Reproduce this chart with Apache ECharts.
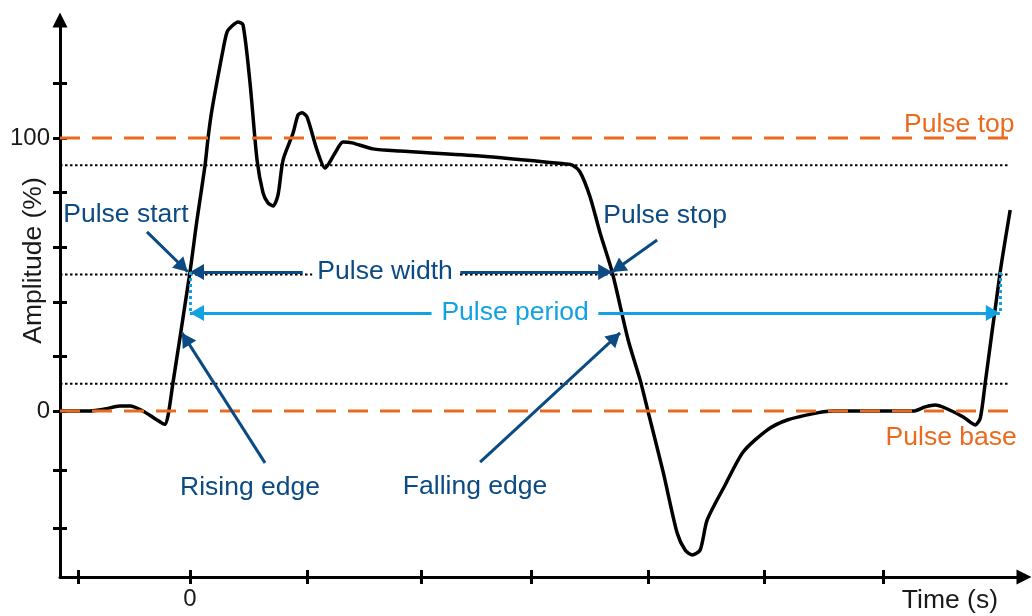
<!DOCTYPE html>
<html><head><meta charset="utf-8">
<script src="https://cdn.jsdelivr.net/npm/echarts@6/dist/echarts.min.js"></script>
<style>html,body{margin:0;padding:0;background:#fff}#chart{width:1032px;height:616px}</style>
</head><body><div id="chart"></div>
<script>
// ---- data (time in s, amplitude in %) ----
const signalTime = [-1.13, -0.87, -0.74, -0.61, -0.52, -0.41, -0.30, -0.22, -0.19, -0.148, 0, 0.061, 0.13, 0.157, 0.191, 0.287, 0.322, 0.365, 0.417, 0.461, 0.522, 0.583, 0.635, 0.678, 0.722, 0.765, 0.809, 0.896, 0.939, 0.974, 1.017, 1.104, 1.174, 1.261, 1.33, 1.409, 1.591, 1.826, 2.522, 3.261, 3.322, 3.391, 3.478, 3.565, 3.67, 3.809, 3.913, 3.983, 4.113, 4.235, 4.304, 4.365, 4.435, 4.496, 4.652, 4.809, 5.017, 5.191, 5.452, 5.591, 6.287, 6.391, 6.478, 6.565, 6.722, 6.826, 6.87, 6.913, 7.043, 7.13];
const signalAmp = [0, 0, 0.7, 1.8, 1.8, 0, -2.9, -4.9, -1.5, 10.3, 50.9, 70, 89.7, 100, 110.3, 132.2, 138.8, 141, 142.5, 141.4, 120.1, 91.9, 79.9, 76.2, 75.1, 79.1, 91.9, 101.8, 108.4, 109.2, 107.7, 95.6, 89.0, 94.5, 98.5, 98.2, 96.0, 95.2, 93.4, 90.5, 90.1, 87.5, 78.4, 65.2, 50.9, 26.0, 11.4, -0.4, -22.3, -44.7, -50.9, -52.7, -50.9, -39.9, -27.1, -15.0, -7.0, -3.3, -0.7, 0, 0, 1.5, 2.2, 1.1, -2.2, -5.1, -2.6, 10.3, 50.9, 73.6];

const xTicks = [-0.97, 0, 1.02, 2.01, 2.97, 3.98, 4.99, 6.03];
const xTickLabels = [0];
const yTicks = [-43, -21.6, 0, 20, 40, 60, 80, 100, 120];
const yTickLabels = [0, 100];

const pulseLevels = [0, 100];          // base, top
const thresholdLevels = [10, 50, 90];
const levelSpan = [-1.13, 7.14];
const thresholdSpan = [-1.13, 7.11];

// annotation arrows: [from, to(tip)]
const widthArrows = [[[0.98, 50.9], [0, 50.9]], [[2.35, 50.9], [3.67, 50.9]]];
const periodArrows = [[[2.1, 35.9], [0, 35.9]], [[3.55, 35.9], [7.04, 35.9]]];
const periodGuides = [[[0, 50.9], [0, 35.9]], [[7.04, 50.9], [7.04, 35.9]]];
const pointerArrows = [
  [[-0.374, 65.6], [-0.02, 51]],     // Pulse start
  [[4.061, 62.6], [3.67, 50.9]],     // Pulse stop
  [[0.652, -19.0], [-0.07, 28.6]],   // Rising edge
  [[2.522, -18.7], [3.739, 28.6]]    // Falling edge
];

const orangeLabels = ['Pulse top', 'Pulse base'];
const orangeLabelX = [6.687, 6.617];
const orangeLabelY = [104.8, -9.9];
const darkLabels = ['Pulse start', 'Pulse stop', 'Rising edge', 'Falling edge'];
const darkLabelX = [-0.557, 4.13, 0.522, 2.478];
const darkLabelY = [71.8, 71.4, -28.2, -27.8];
const widthLabel = ['Pulse width'];
const widthLabelX = [1.696];
const widthLabelY = [50.9];
const lightLabels = ['Pulse period'];
const lightLabelX = [2.826];
const lightLabelY = [35.9];

// ---- styling ----
const ORANGE = '#EB6A1E', DARK = '#0B4A82', LIGHT = '#12A2E2';
const FONT = "'Liberation Sans', Arial, sans-serif";
const TXT = 26.5;
const X_MIN = -1.13, X_MAX = 7.25, Y_MIN = -60.8, Y_MAX = 143.2;

function hLine(level, span) { return [[span[0], level], [span[1], level]]; }
function arrowSeries(arrows, color, withHead, dash) {
  return {
    type: 'line', data: [], silent: true, z: 6,
    markLine: {
      silent: true, animation: false,
      symbol: withHead ? ['none', 'triangle'] : ['none', 'none'],
      symbolSize: [16, 14],
      symbolOffset: [[0, 0], [0, 7]],
      label: { show: false },
      emphasis: { disabled: true },
      lineStyle: { color: color, width: 3, type: dash || 'solid', opacity: 1 },
      data: arrows.map(a => [{ coord: a[0] }, { coord: a[1] }])
    }
  };
}
function labelSeries(names, xs, ys, color, masked) {
  const label = { show: true, position: 'inside', formatter: '{b}', color: color, opacity: 1, fontSize: TXT, fontFamily: FONT,
    align: 'center', verticalAlign: 'middle' };
  if (masked) { label.backgroundColor = '#fff'; label.padding = [0, 5]; }
  return {
    type: 'scatter', symbol: 'circle', symbolSize: 0, z: 8, silent: true,
    itemStyle: { opacity: 1 },
    data: names.map((n, i) => ({ name: n, value: [xs[i], ys[i]] })),
    label: label
  };
}

const axisCommon = { type: 'value', splitLine: { show: false } };
const option = {
  animation: false,
  backgroundColor: '#fff',
  grid: { left: 60, right: 8, top: 20, bottom: 39, containLabel: false, outerBoundsMode: 'none' },
  xAxis: [
    Object.assign({}, axisCommon, {
      position: 'bottom', min: X_MIN, max: X_MAX,
      axisLine: { show: true, onZero: false, symbol: ['none', 'triangle'], symbolSize: [15, 15], lineStyle: { color: '#000', width: 3 } },
      axisTick: { show: true, customValues: xTicks, length: 7, lineStyle: { color: '#000', width: 3 } },
      axisLabel: { customValues: xTickLabels, margin: 10, fontSize: 24, color: '#1a1a1a', fontFamily: FONT },
      name: 'Time (s)', nameLocation: 'end', nameGap: -26, nameMoveOverlap: false,
      nameTextStyle: { fontSize: TXT, color: '#1a1a1a', fontFamily: FONT, align: 'right', verticalAlign: 'top', padding: [10, 0, 0, 0] }
    }),
    Object.assign({}, axisCommon, {
      position: 'bottom', min: X_MIN, max: X_MAX,
      axisLine: { show: false, onZero: false },
      axisTick: { show: true, inside: true, customValues: xTicks, length: 7, lineStyle: { color: '#000', width: 3 } },
      axisLabel: { show: false }
    })
  ],
  yAxis: [
    Object.assign({}, axisCommon, {
      position: 'left', min: Y_MIN, max: Y_MAX,
      axisLine: { show: true, onZero: false, symbol: ['none', 'triangle'], symbolSize: [15, 15], lineStyle: { color: '#000', width: 3 } },
      axisTick: { show: true, customValues: yTicks, length: 7, lineStyle: { color: '#000', width: 3 } },
      axisLabel: { customValues: yTickLabels, margin: 10, fontSize: 24, color: '#1a1a1a', fontFamily: FONT },
      name: 'Amplitude (%)', nameLocation: 'middle', nameGap: 13, nameMoveOverlap: false,
      nameTextStyle: { fontSize: TXT, color: '#1a1a1a', fontFamily: FONT, padding: [0, 0, 0, 76] }
    }),
    Object.assign({}, axisCommon, {
      position: 'left', min: Y_MIN, max: Y_MAX,
      axisLine: { show: false, onZero: false },
      axisTick: { show: true, inside: true, customValues: yTicks, length: 7, lineStyle: { color: '#000', width: 3 } },
      axisLabel: { show: false }
    })
  ],
  series: [
    {
      type: 'line', z: 3, silent: true, showSymbol: false, symbol: 'none', smooth: 0.25,
      data: signalTime.map((t, i) => [t, signalAmp[i]]),
      lineStyle: { color: '#000', width: 3.5 }
    }
  ]
    .concat(thresholdLevels.map(lv => ({
      type: 'line', z: 2, silent: true, showSymbol: false, symbol: 'none',
      data: hLine(lv, thresholdSpan),
      lineStyle: { color: '#000', width: 2, type: [2.5, 2.5] }
    })))
    .concat(pulseLevels.map(lv => ({
      type: 'line', z: 4, silent: true, showSymbol: false, symbol: 'none',
      data: hLine(lv, levelSpan),
      lineStyle: { color: ORANGE, width: 3, type: [20, 12] }
    })))
    .concat([
      arrowSeries(widthArrows, DARK, true),
      arrowSeries(pointerArrows, DARK, true),
      arrowSeries(periodArrows, LIGHT, true),
      arrowSeries(periodGuides, LIGHT, false, [3, 3]),
      labelSeries(orangeLabels, orangeLabelX, orangeLabelY, ORANGE, false),
      labelSeries(darkLabels, darkLabelX, darkLabelY, DARK, false),
      labelSeries(widthLabel, widthLabelX, widthLabelY, DARK, true),
      labelSeries(lightLabels, lightLabelX, lightLabelY, LIGHT, false)
    ])
};
const chart = echarts.init(document.getElementById('chart'), null, { renderer: 'canvas' });
chart.setOption(option);
</script></body></html>
